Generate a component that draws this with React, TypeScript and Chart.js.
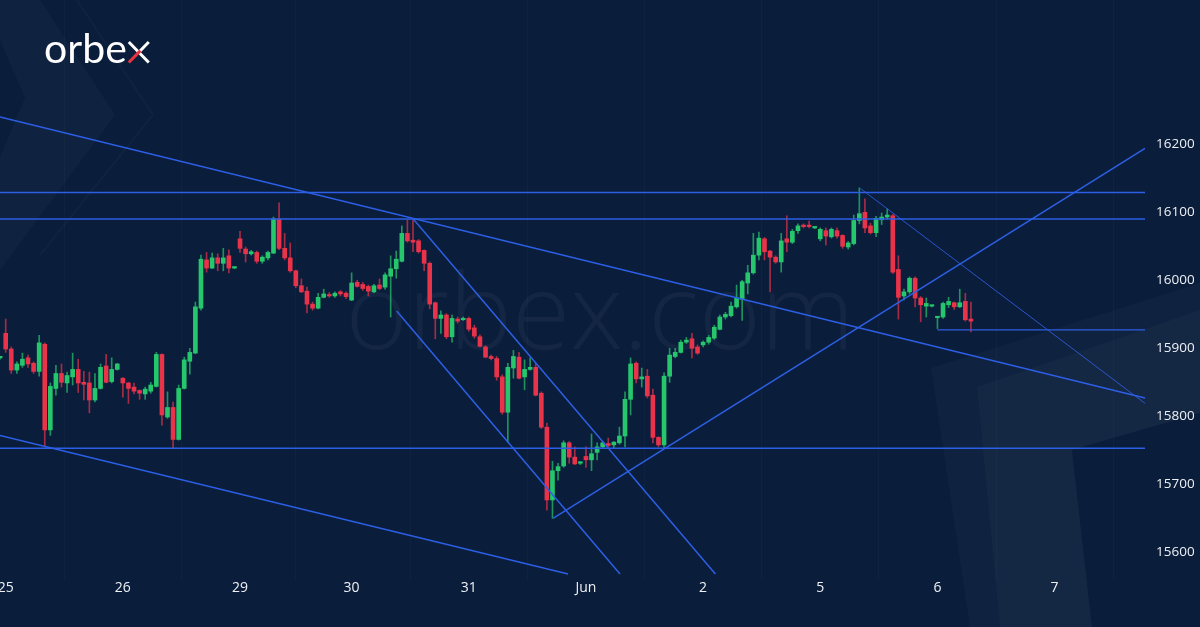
import React, { useEffect, useRef } from 'react';
import { Chart, registerables } from 'chart.js';

Chart.register(...registerables);

// ---- data (hourly candles, index 0 = first candle of the 25th) ----
const FIRST_INDEX = -1;

const opens = [
  15886, 15922, 15899, 15868, 15875, 15886, 15878, 15866, 15906, 15780,
  15841, 15863, 15849, 15858, 15869, 15850, 15849, 15824, 15841, 15874,
  15851, 15869, 15856, 15849, 15843, 15838, 15833, 15837, 15844, 15891,
  15799, 15813, 15766, 15841, 15881, 15893, 15959, 16030, 16018, 16033,
  16025, 16036, 16018, 16061, 16046, 16039, 16041, 16028, 16033, 16040,
  16090, 16047, 16033, 16014, 15992, 15984, 15965, 15959, 15975, 15979,
  15977, 15983, 15981, 15971, 15997, 15994, 15991, 15983, 15993, 15990,
  16006, 16017, 16028, 16069, 16059, 16058, 16044, 16025, 15967, 15944,
  15949, 15917, 15943, 15942, 15944, 15930, 15917, 15902, 15888, 15885,
  15858, 15806, 15871, 15887, 15858, 15869, 15872, 15834, 15784, 15677,
  15720, 15727, 15761, 15740, 15731, 15741, 15736, 15747, 15755, 15760,
  15758, 15761, 15771, 15825, 15878, 15855, 15859, 15831, 15769, 15758,
  15859, 15888, 15894, 15909, 15914, 15902, 15905, 15909, 15915, 15928,
  15946, 15948, 15961, 15972, 15996, 16011, 16037, 16061, 16043, 16034,
  16027, 16061, 16056, 16073, 16081, 16081, 16077, 16061, 16073, 16064,
  16073, 16066, 16049, 16054, 16088, 16100, 16080, 16070, 16089, 16093,
  16095, 16016, 15977, 15983, 16003, 15974, 15962, 15962, 15945, 15946,
  15964, 15967, 15961, 15969, 15943,
];

const highs = [
  15888, 15943, 15902, 15880, 15893, 15890, 15880, 15919, 15908, 15849,
  15875, 15877, 15865, 15893, 15884, 15866, 15865, 15863, 15877, 15891,
  15886, 15878, 15857, 15850, 15849, 15839, 15843, 15850, 15894, 15892,
  15836, 15821, 15846, 15887, 15900, 15968, 16037, 16041, 16040, 16039,
  16047, 16045, 16019, 16072, 16049, 16044, 16043, 16036, 16043, 16093,
  16114, 16069, 16055, 16015, 16002, 15990, 15968, 15981, 15987, 15982,
  15983, 15985, 15983, 16011, 16000, 15997, 15993, 15994, 16002, 16011,
  16036, 16043, 16080, 16089, 16089, 16060, 16045, 16027, 15968, 15955,
  15951, 15949, 15946, 15946, 15946, 15934, 15920, 15904, 15890, 15888,
  15861, 15878, 15897, 15894, 15883, 15886, 15878, 15836, 15790, 15734,
  15731, 15764, 15763, 15755, 15733, 15755, 15774, 15761, 15763, 15768,
  15763, 15784, 15836, 15886, 15880, 15871, 15869, 15840, 15770, 15864,
  15900, 15900, 15912, 15916, 15922, 15905, 15911, 15919, 15934, 15949,
  15953, 15968, 15993, 16000, 16022, 16069, 16071, 16063, 16044, 16036,
  16069, 16095, 16075, 16083, 16083, 16087, 16078, 16077, 16077, 16077,
  16077, 16067, 16057, 16096, 16136, 16120, 16084, 16094, 16099, 16105,
  16097, 16036, 15987, 16005, 16005, 15976, 15974, 15963, 15947, 15968,
  15975, 15968, 15987, 15981, 15968,
];

const lows = [
  15884, 15894, 15863, 15863, 15872, 15872, 15863, 15859, 15755, 15772,
  15831, 15843, 15835, 15846, 15835, 15824, 15805, 15821, 15840, 15849,
  15849, 15868, 15828, 15819, 15833, 15825, 15825, 15834, 15843, 15787,
  15797, 15753, 15765, 15840, 15862, 15892, 15956, 16012, 16017, 16014,
  16014, 16011, 16017, 16041, 16027, 16037, 16025, 16025, 16030, 16039,
  16045, 16030, 16012, 15989, 15982, 15952, 15956, 15958, 15974, 15975,
  15975, 15977, 15973, 15970, 15990, 15985, 15977, 15982, 15986, 15987,
  15946, 16003, 16027, 16056, 16042, 16040, 16014, 15958, 15914, 15922,
  15914, 15909, 15937, 15941, 15925, 15915, 15902, 15886, 15883, 15853,
  15803, 15762, 15856, 15855, 15839, 15868, 15830, 15782, 15662, 15650,
  15706, 15725, 15731, 15729, 15729, 15725, 15720, 15736, 15753, 15755,
  15753, 15759, 15755, 15802, 15849, 15843, 15827, 15761, 15755, 15754,
  15850, 15886, 15893, 15907, 15886, 15891, 15902, 15906, 15913, 15927,
  15943, 15946, 15959, 15941, 15980, 16009, 16030, 16030, 15983, 16025,
  16012, 16042, 16054, 16069, 16077, 16077, 16076, 16058, 16052, 16062,
  16062, 16047, 16046, 16052, 16083, 16070, 16068, 16064, 16082, 16090,
  16010, 15943, 15971, 15980, 15961, 15939, 15946, 15961, 15929, 15944,
  15960, 15957, 15960, 15940, 15924,
];

const closes = [
  15886, 15899, 15868, 15877, 15884, 15877, 15866, 15908, 15780, 15844,
  15863, 15850, 15860, 15869, 15849, 15847, 15824, 15841, 15872, 15850,
  15869, 15877, 15849, 15841, 15837, 15834, 15840, 15846, 15891, 15802,
  15813, 15766, 15841, 15883, 15894, 15961, 16031, 16018, 16033, 16025,
  16033, 16018, 16018, 16047, 16039, 16042, 16028, 16034, 16041, 16090,
  16047, 16033, 16014, 15992, 15983, 15965, 15959, 15975, 15980, 15977,
  15981, 15980, 15976, 15996, 15991, 15988, 15984, 15992, 15988, 16008,
  16017, 16031, 16069, 16058, 16056, 16042, 16025, 15965, 15944, 15949,
  15917, 15944, 15940, 15944, 15928, 15918, 15903, 15887, 15885, 15858,
  15806, 15872, 15888, 15856, 15869, 15872, 15831, 15784, 15677, 15720,
  15726, 15761, 15740, 15730, 15731, 15736, 15745, 15755, 15761, 15757,
  15762, 15771, 15825, 15877, 15855, 15858, 15830, 15769, 15758, 15859,
  15890, 15894, 15909, 15912, 15900, 15893, 15909, 15916, 15931, 15946,
  15950, 15962, 15974, 15998, 16011, 16037, 16062, 16042, 16034, 16027,
  16058, 16056, 16072, 16080, 16079, 16079, 16077, 16075, 16065, 16075,
  16065, 16050, 16055, 16088, 16098, 16077, 16070, 16091, 16093, 16096,
  16012, 15975, 15983, 16003, 15974, 15964, 15966, 15962, 15947, 15966,
  15969, 15961, 15967, 15942, 15940,
];

const dayTickIndex = [0, 21, 42, 62, 83, 104, 125, 146, 167, 188];
const dayTickLabels = ['25', '26', '29', '30', '31', 'Jun', '2', '5', '6', '7'];
const priceTicks = [15600, 15700, 15800, 15900, 16000, 16100, 16200];

const X_MIN = -1.02;
const X_MAX = 204.2;
const Y_MIN = 15559.3;
const Y_MAX = 16412.2;

// trend / level lines: [index, price] end points
const resistanceTop = [[X_MIN, 16129], [X_MAX, 16129]];
const resistanceMid = [[X_MIN, 16090], [X_MAX, 16090]];
const supportLevel = [[X_MIN, 15753], [X_MAX, 15753]];
const recentLow = [[167, 15927], [X_MAX, 15927]];
const longDownTrend = [[X_MIN, 16240], [X_MAX, 15827]];
const lowerDownTrend = [[X_MIN, 15772], [100.8, 15568]];
const channelLower = [[70.07, 15955], [110.1, 15568]];
const channelUpper = [[73.05, 16090], [127.2, 15568]];
const upTrend = [[98.1, 15650], [X_MAX, 16194]];
const thinDownTrend = [[153.2, 16135], [X_MAX, 15819]];

const W = 1200;
const H = 627;

function poly(ctx: CanvasRenderingContext2D, pts: number[][]) {
  ctx.beginPath();
  pts.forEach((p, i) => (i === 0 ? ctx.moveTo(p[0], p[1]) : ctx.lineTo(p[0], p[1])));
  ctx.closePath();
}

const bgPlugin = {
  id: 'orbexBg',
  beforeDraw(chart: any) {
    const ctx = chart.ctx as CanvasRenderingContext2D;
    ctx.save();
    ctx.fillStyle = '#0a1d3b';
    ctx.fillRect(0, 0, W, H);

    // top-left chevrons
    ctx.fillStyle = 'rgba(255,255,255,0.022)';
    ctx.beginPath();
    ctx.moveTo(0, 0);
    ctx.lineTo(40, 0);
    ctx.lineTo(115, 115);
    ctx.lineTo(0, 270);
    ctx.lineTo(0, 157);
    ctx.lineTo(25, 98);
    ctx.lineTo(0, 40);
    ctx.closePath();
    ctx.fill();
    ctx.strokeStyle = 'rgba(255,255,255,0.025)';
    ctx.lineWidth = 2;
    ctx.beginPath();
    ctx.moveTo(77, 0);
    ctx.lineTo(153, 115);
    ctx.lineTo(40, 255);
    ctx.stroke();

    // bottom-right panels
    ctx.fillStyle = 'rgba(255,255,255,0.022)';
    poly(ctx, [[931, 368], [1200, 283], [1200, 413], [1072, 450], [1092, 627], [970, 627]]);
    ctx.fill();
    ctx.fillStyle = 'rgba(255,255,255,0.022)';
    poly(ctx, [[977, 387], [1200, 310], [1200, 413], [1072, 450], [1092, 627], [1000, 627]]);
    ctx.fill();

    // watermark
    ctx.fillStyle = 'rgba(255,255,255,0.045)';
    ctx.font = "300 106px 'Open Sans', sans-serif";
    ctx.textAlign = 'center';
    ctx.textBaseline = 'alphabetic';
    ctx.fillText('orbex.com', 600, 349);

    // logo
    ctx.textAlign = 'left';
    ctx.fillStyle = '#ffffff';
    ctx.font = "400 41px Lato, 'Open Sans', sans-serif";
    ctx.fillText('orbe', 44, 63);
    const w = ctx.measureText('orbe').width;
    const x0 = 44 + w + 2;
    const top = 42;
    const bot = 62.5;
    const s = 20;
    ctx.lineWidth = 3;
    ctx.strokeStyle = '#ffffff';
    ctx.beginPath();
    ctx.moveTo(x0, top);
    ctx.lineTo(x0 + s, bot);
    ctx.moveTo(x0 + s * 0.55, top + (bot - top) * 0.45);
    ctx.lineTo(x0 + s, top);
    ctx.stroke();
    ctx.strokeStyle = '#e8343f';
    ctx.beginPath();
    ctx.moveTo(x0, bot);
    ctx.lineTo(x0 + s * 0.58, top + (bot - top) * 0.42);
    ctx.stroke();
    ctx.restore();
  },
};

const LINE_COLOR = '#2d5fe6';

function lineDs(pts: number[][], width = 1.5, color = LINE_COLOR) {
  return {
    type: 'line' as const,
    data: pts.map((p) => ({ x: p[0], y: p[1] })),
    borderColor: color,
    borderWidth: width,
    pointRadius: 0,
    fill: false,
    order: 0,
    clip: false as any,
  };
}

export default function App() {
  const ref = useRef<HTMLCanvasElement | null>(null);

  useEffect(() => {
    if (!ref.current) return;
    const idx = opens.map((_, i) => i + FIRST_INDEX);
    const up = opens.map((o, i) => closes[i] >= o);
    const bodyData = idx.map((x, i) => ({ x, y: [opens[i], closes[i]] }));
    const wickData = idx.map((x, i) => ({ x, y: [lows[i], highs[i]] }));
    const green = '#26c66d';
    const red = '#e8334a';

    const chart = new Chart(ref.current, {
      type: 'bar',
      data: {
        datasets: [
          lineDs(longDownTrend),
          lineDs(resistanceTop),
          lineDs(resistanceMid),
          lineDs(supportLevel),
          lineDs(recentLow, 1.2),
          lineDs(lowerDownTrend),
          lineDs(channelLower),
          lineDs(channelUpper),
          lineDs(upTrend),
          lineDs(thinDownTrend, 1, 'rgba(45,95,230,0.85)'),
          {
            type: 'bar',
            data: wickData as any,
            backgroundColor: up.map((u) => (u ? 'rgba(38,198,109,0.7)' : 'rgba(232,51,74,0.7)')),
            barThickness: 1,
            grouped: false,
            order: 2,
          } as any,
          {
            type: 'bar',
            data: bodyData as any,
            backgroundColor: up.map((u) => (u ? green : red)),
            barThickness: 4,
            minBarLength: 1.5,
            grouped: false,
            order: 1,
          } as any,
        ],
      },
      options: {
        responsive: false,
        animation: false,
        devicePixelRatio: 1,
        layout: { padding: 0 },
        plugins: { legend: { display: false }, tooltip: { enabled: false } },
        scales: {
          x: {
            type: 'linear',
            min: X_MIN,
            max: X_MAX,
            offset: false,
            grid: { color: 'rgba(255,255,255,0.025)', drawTicks: false },
            border: { display: false },
            ticks: {
              color: '#eef0f4',
              font: { family: "'Open Sans', sans-serif", size: 14 },
              padding: 0,
              autoSkip: false,
              maxRotation: 0,
              callback: (v: any) => {
                const k = dayTickIndex.indexOf(Number(v));
                return k >= 0 ? dayTickLabels[k] : '';
              },
            },
            afterBuildTicks: (s: any) => {
              s.ticks = dayTickIndex.map((v) => ({ value: v }));
            },
            afterFit: (s: any) => {
              s.height = 47;
              s.paddingLeft = 0;
              s.paddingRight = 0;
            },
          },
          y: {
            type: 'linear',
            position: 'right',
            min: Y_MIN,
            max: Y_MAX,
            grid: { display: false, drawTicks: false },
            border: { display: false },
            ticks: {
              color: '#eef0f4',
              font: { family: "'Open Sans', sans-serif", size: 13.5 },
              padding: 11,
              callback: (v: any) => String(v),
            },
            afterBuildTicks: (s: any) => {
              s.ticks = priceTicks.map((v) => ({ value: v }));
            },
            afterFit: (s: any) => {
              s.width = 55;
              s.paddingTop = 0;
              s.paddingBottom = 0;
            },
          },
        },
      } as any,
      plugins: [bgPlugin],
    });
    return () => chart.destroy();
  }, []);

  return (
    <div style={{ position: 'fixed', left: 0, top: 0, width: W, height: H, background: '#0a1d3b' }}>
      <canvas ref={ref} width={W} height={H} style={{ width: W, height: H, display: 'block' }} />
    </div>
  );
}
